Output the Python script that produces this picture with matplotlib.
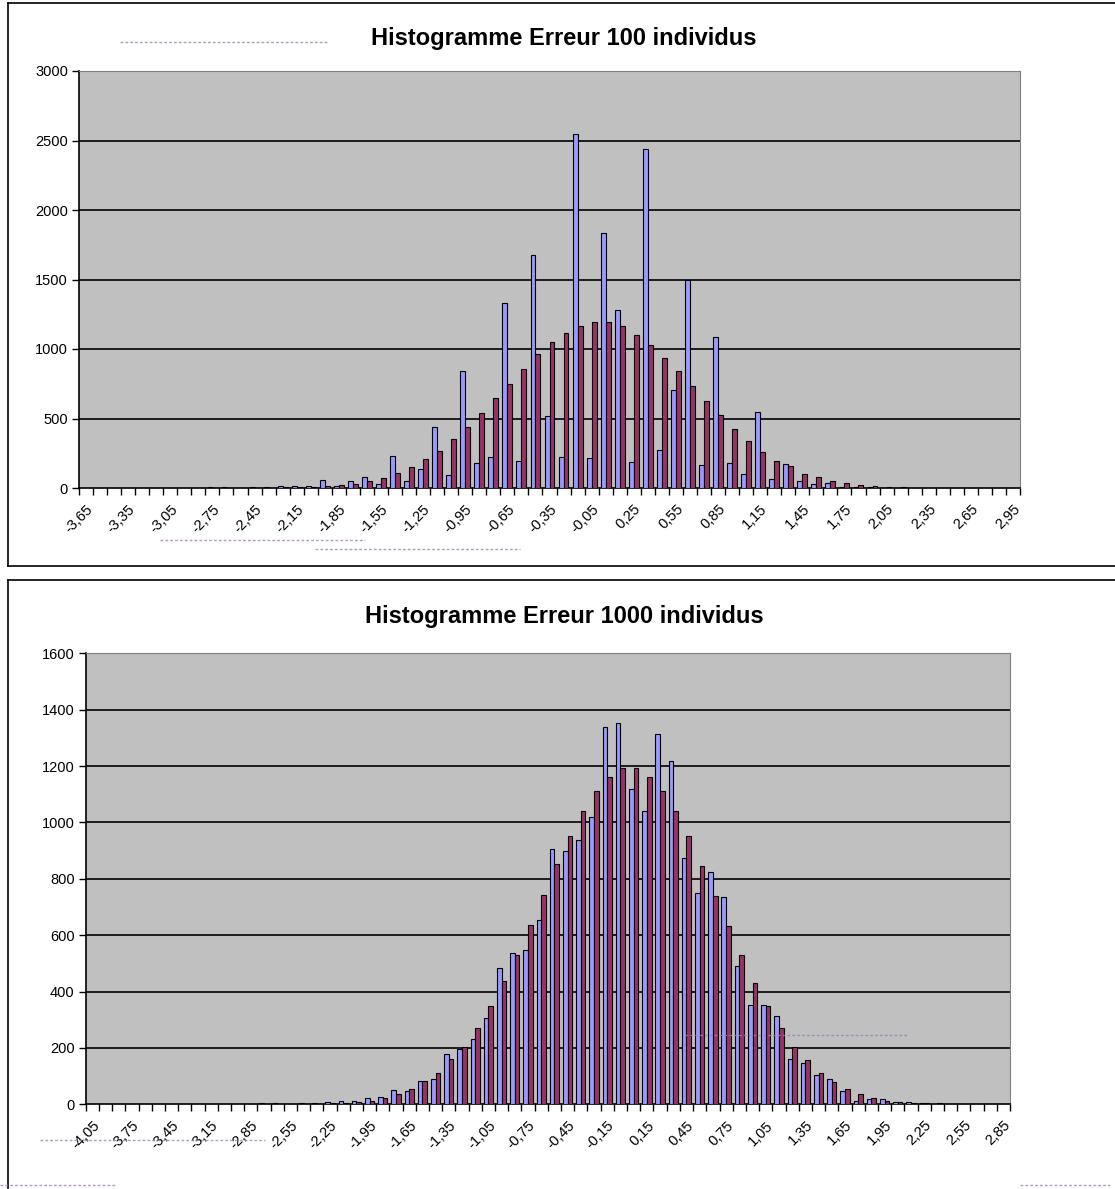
import numpy as np
import matplotlib
matplotlib.use('Agg')
import matplotlib.pyplot as plt
import matplotlib.transforms as mtransforms
from matplotlib.lines import Line2D

plt.rcParams['font.family'] = ['Liberation Sans', 'DejaVu Sans']

# ---- data: histogramme 100 individus (categories -3.65 .. 2.95, step 0.1)
cat100 = [round(-3.65 + 0.1 * i, 2) for i in range(67)]
blue100 = [0, 0, 0, 0, 0, 0, 0, 0, 0, 5, 5, 0, 5, 7, 17, 17, 17,
           56, 12, 48, 82, 31, 232, 48, 136, 436, 92, 840, 182, 223, 1331, 196,
           1675, 515, 223, 2550, 213, 1832, 1278, 189, 2440, 276, 707, 1498, 162,
           1084, 182, 102, 549, 65, 175, 53, 27, 34, 7, 7, 7,
           0, 0, 0, 0, 0, 0, 0, 0, 0, 0]
red100 = [0, 0, 0, 0, 0, 0, 0, 0, 0, 3, 3, 0, 3, 3, 7, 7, 5,
          12, 22, 29, 48, 73, 109, 152, 206, 266, 353, 436, 540, 646, 750, 857,
          961, 1050, 1113, 1164, 1191, 1191, 1164, 1101, 1031, 934, 840, 733, 627,
          523, 424, 339, 259, 196, 158, 104, 78, 51, 34, 24, 17,
          8, 7, 0, 0, 0, 0, 0, 0, 0, 0]

# ---- data: histogramme 1000 individus (categories -4.05 .. 2.85, step 0.1)
cat1000 = [round(-4.05 + 0.1 * i, 2) for i in range(70)]
blue1000 = [0, 0, 0, 0, 0, 0, 0, 0, 0, 0, 0, 0, 0, 4, 4, 0, 4, 4, 8, 13,
            12, 21, 26, 50, 46, 84, 90, 177, 197, 232, 307, 485, 535, 549, 653,
            906, 897, 939, 1020, 1339, 1353, 1117, 1042, 1312, 1219, 874, 749, 824,
            735, 490, 354, 354, 312, 159, 145, 103, 89, 46, 13, 19, 19, 8, 8, 4,
            0, 0, 0, 0, 0, 0]
red1000 = [0, 0, 0, 0, 0, 0, 0, 0, 0, 0, 0, 0, 0, 0, 0, 0, 0, 0, 4, 4,
           8, 13, 21, 38, 56, 84, 112, 159, 204, 269, 349, 437, 530, 637, 743,
           852, 953, 1042, 1112, 1162, 1192, 1192, 1162, 1113, 1042, 953, 847, 740,
           632, 530, 432, 349, 269, 204, 158, 112, 79, 56, 37, 22, 13, 8, 4, 4,
           4, 0, 0, 0, 0, 0]

W, H = 1115, 1189
fig = plt.figure(figsize=(W / 100, H / 100), dpi=100)


def fx(px):
    return px / W


def fy(py):
    return 1 - py / H


def draw_hist(rect, cats, blue, red, ymax, ystep, title, title_y):
    ax = fig.add_axes(rect)
    n = len(cats)
    x = np.arange(n)
    w = 0.35
    ax.bar(x - w / 2, blue, width=w, color='#9999FF', edgecolor='black', linewidth=0.8, zorder=3)
    ax.bar(x + w / 2, red, width=w, color='#993366', edgecolor='black', linewidth=0.8, zorder=3)
    ax.set_facecolor('#C0C0C0')
    ax.set_xlim(-0.5, n - 0.5)
    ax.set_ylim(0, ymax)
    yt = np.arange(0, ymax + 1, ystep)
    ax.set_yticks(yt)
    ax.set_yticklabels([str(int(v)) for v in yt], fontsize=10.5)
    for v in yt[1:-1]:
        ax.axhline(v, color='black', linewidth=1.2, zorder=1)
    # labels every 3 categories, ticks at category boundaries
    ax.set_xticks(x[::3])
    ax.set_xticklabels([('%.2f' % c).replace('.', ',') for c in cats[::3]],
                       rotation=45, ha='right', va='top', rotation_mode='anchor', fontsize=10.5)
    shift = mtransforms.ScaledTranslation(-6 / 100, 0, fig.dpi_scale_trans)
    for lab in ax.get_xticklabels():
        lab.set_transform(lab.get_transform() + shift)
    ax.tick_params(axis='x', which='major', length=0, pad=10)
    ax.set_xticks(np.arange(-0.5, n), minor=True)
    ax.tick_params(axis='x', which='minor', length=5, width=1, color='black')
    ax.tick_params(axis='y', length=5, width=1, color='black', pad=3)
    for s in ['top', 'right']:
        ax.spines[s].set_color('#808080')
    for s in ['left', 'bottom']:
        ax.spines[s].set_color('black')
        ax.spines[s].set_linewidth(1.2)
    fig.text(fx(564), fy(title_y), title, ha='center', va='center',
             fontsize=17, fontweight='bold')
    return ax


draw_hist([fx(79), fy(488), fx(1020 - 79), (488 - 71) / H], cat100, blue100, red100,
          3000, 500, 'Histogramme Erreur 100 individus', 38)
draw_hist([fx(85.7), fy(1104.3), fx(1010 - 85.7), (1104.3 - 653.3) / H], cat1000, blue1000, red1000,
          1600, 200, 'Histogramme Erreur 1000 individus', 617)

# chart area frames
frame = dict(color='black', linewidth=1.2, transform=fig.transFigure)
fig.add_artist(Line2D([fx(8), 1], [fy(3), fy(3)], **frame))
fig.add_artist(Line2D([fx(8), fx(8)], [fy(3), fy(566)], **frame))
fig.add_artist(Line2D([fx(8), 1], [fy(566), fy(566)], **frame))
fig.add_artist(Line2D([fx(8), 1], [fy(580), fy(580)], **frame))
fig.add_artist(Line2D([fx(8), fx(8)], [fy(580), 0], **frame))

# faint dotted leftovers visible in the picture
dots = dict(color='#a080b0', linewidth=1, linestyle=(0, (2, 1.5)), alpha=0.8,
            transform=fig.transFigure)
for x0, x1, y in [(120, 328, 42), (160, 365, 540), (315, 520, 549), (685, 908, 1035),
                  (40, 265, 1140), (0, 115, 1185), (1020, 1110, 1185)]:
    fig.add_artist(Line2D([fx(x0), fx(x1)], [fy(y), fy(y)], **dots))

fig.savefig('out.png', dpi=100)
